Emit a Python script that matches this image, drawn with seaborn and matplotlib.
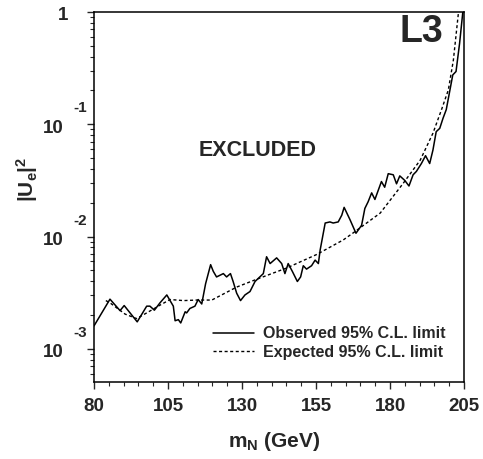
import numpy as np
import pandas as pd
import matplotlib
matplotlib.use("Agg")
import matplotlib.pyplot as plt
import matplotlib.ticker as mticker
import seaborn as sns

# Observed limit
obs_mass = [80, 85.4, 88.8, 90.2, 94.6, 97.8, 98.9, 100.4, 102.3, 104.6, 105.7,
            106.8, 107.4, 108.5, 109.3, 110.8, 111.3, 112.4, 114.1, 115.2, 116.4,
            117.7, 119.4, 120.3, 121.4, 123.7, 124.8, 126.1, 127.0, 128.2, 129.5,
            131.0, 132.7, 134.4, 137.2, 138.3, 139.5, 141.7, 143.4, 144.5, 145.6,
            147.0, 148.7, 149.8, 150.7, 151.8, 153.5, 154.7, 155.8, 156.4, 158.1,
            159.7, 160.8, 162.5, 163.7, 164.5, 166.5, 168.5, 170.4, 171.5, 172.6,
            173.8, 174.9, 177.1, 178.2, 179.4, 181.1, 182.2, 183.3, 185.0, 186.4,
            187.8, 188.9, 190.6, 192.0, 193.4, 194.5, 195.6, 196.8, 197.9, 199.0,
            201.2, 202.3, 203.5, 204.6]
obs_limit = [1.60e-3, 2.77e-3, 2.19e-3, 2.43e-3, 1.74e-3, 2.40e-3, 2.40e-3, 2.21e-3,
             2.57e-3, 3.02e-3, 2.69e-3, 2.40e-3, 1.78e-3, 1.82e-3, 1.70e-3, 2.14e-3,
             2.09e-3, 2.29e-3, 2.40e-3, 2.75e-3, 2.51e-3, 3.80e-3, 5.62e-3, 4.90e-3,
             4.37e-3, 4.68e-3, 4.37e-3, 4.68e-3, 3.98e-3, 3.13e-3, 2.69e-3, 3.02e-3,
             3.24e-3, 3.98e-3, 4.68e-3, 6.61e-3, 5.75e-3, 6.46e-3, 5.75e-3, 4.68e-3,
             5.75e-3, 4.90e-3, 3.98e-3, 4.37e-3, 5.50e-3, 5.13e-3, 5.50e-3, 6.17e-3,
             5.75e-3, 7.59e-3, 1.32e-2, 1.35e-2, 1.32e-2, 1.35e-2, 1.55e-2, 1.82e-2,
             1.41e-2, 1.07e-2, 1.26e-2, 1.78e-2, 2.04e-2, 2.45e-2, 2.14e-2, 3.09e-2,
             2.75e-2, 3.63e-2, 3.55e-2, 2.95e-2, 3.47e-2, 3.16e-2, 2.82e-2, 3.55e-2,
             3.80e-2, 4.47e-2, 5.25e-2, 4.47e-2, 5.89e-2, 8.59e-2, 9.20e-2, 0.113,
             0.135, 0.275, 0.295, 0.525, 1.0]

# Expected limit
exp_mass = [84.0, 85.4, 90.5, 94.4, 97.8, 102.3, 105.7, 110.2, 114.7, 119.8, 128.2,
            135.0, 145.1, 155.2, 164.2, 167.6, 176.7, 184.5, 190.2, 194.5, 197.4,
            199.7, 201.4, 203.1, 203.2]
exp_limit = [2.69e-3, 2.57e-3, 2.04e-3, 1.86e-3, 2.09e-3, 2.45e-3, 2.75e-3, 2.69e-3,
             2.72e-3, 2.72e-3, 3.55e-3, 4.17e-3, 5.25e-3, 6.92e-3, 9.33e-3, 1.08e-2,
             1.62e-2, 2.99e-2, 4.79e-2, 8.32e-2, 0.135, 0.202, 0.372, 0.977, 1.0]

x_ticks = [80, 105, 130, 155, 180, 205]
y_ticks = [1e-3, 1e-2, 1e-1]
y_exponents = ["-3", "-2", "-1"]

sns.set_style("ticks")
plt.rcParams["font.family"] = ["Liberation Sans", "DejaVu Sans"]
plt.rcParams["font.weight"] = "bold"
plt.rcParams["mathtext.fontset"] = "custom"
plt.rcParams["mathtext.rm"] = "Liberation Sans:bold"
plt.rcParams["mathtext.bf"] = "Liberation Sans:bold"
plt.rcParams["mathtext.it"] = "Liberation Sans:bold"

obs = pd.DataFrame({"mass": obs_mass, "limit": obs_limit})
exp = pd.DataFrame({"mass": exp_mass, "limit": exp_limit})

fig = plt.figure(figsize=(4.83, 4.59), dpi=100)
ax = fig.add_axes([0.1946, 0.1678, 0.7661, 0.8061])

sns.lineplot(data=obs, x="mass", y="limit", color="black", lw=1.1,
             label="Observed 95% C.L. limit", ax=ax)
sns.lineplot(data=exp, x="mass", y="limit", color="black", lw=1.0,
             linestyle=(0, (2.2, 1.8)), label="Expected 95% C.L. limit", ax=ax)

ax.set_yscale("log")
ax.set_xlim(80, 205)
ax.set_ylim(5.07e-4, 1)

ax.set_xticks(x_ticks)
ax.set_xticklabels([str(t) for t in x_ticks], fontsize=13.5, fontweight="bold")
ax.xaxis.set_minor_locator(mticker.MultipleLocator(5))
ax.set_yticks(y_ticks + [1])
ax.set_yticklabels([])
ax.yaxis.set_minor_locator(mticker.LogLocator(base=10, subs=np.arange(2, 10)))
ax.yaxis.set_minor_formatter(mticker.NullFormatter())

ax.tick_params(which="major", direction="out", length=5.2, width=1.0, pad=5)
ax.tick_params(axis="x", which="major", pad=6.5)
ax.tick_params(which="minor", direction="out", length=2.8, width=0.8)
for s in ax.spines.values():
    s.set_linewidth(1.1)
    s.set_color("black")
ax.set_xlabel("")
ax.set_ylabel("")

# y tick labels drawn as "10" with a raised exponent
for val, ex in zip(y_ticks, y_exponents):
    ax.annotate("10", xy=(0, val), xycoords=("axes fraction", "data"),
                xytext=(-22.0, -6.0), textcoords="offset points",
                ha="right", va="baseline", fontsize=13.5, fontweight="bold")
    ax.annotate(ex, xy=(0, val), xycoords=("axes fraction", "data"),
                xytext=(-15.2, 8.6), textcoords="offset points",
                ha="left", va="baseline", fontsize=11, fontweight="bold")
ax.annotate("1", xy=(0, 1), xycoords=("axes fraction", "data"),
            xytext=(-18.7, -5.8), textcoords="offset points",
            ha="right", va="baseline", fontsize=13.5, fontweight="bold")

fig.text(0.567, 0.026, r"m$_\mathbf{N}$ (GeV)", ha="center", va="baseline",
         fontsize=15, fontweight="bold")
fig.text(0.057, 0.61, r"$\mathbf{|U_e|^2}$", ha="center", va="center",
         rotation=90, fontsize=15)

ax.text(0.442, 0.626, "EXCLUDED", transform=ax.transAxes, ha="center", va="center",
        fontsize=15.5, fontweight="bold")
ax.text(0.943, 0.945, "L3", transform=ax.transAxes, ha="right", va="center",
        fontsize=27, fontweight="bold")

ax.legend(loc="upper left", bbox_to_anchor=(0.322, 0.15), frameon=False,
          borderpad=0, borderaxespad=0, handlelength=2.55,
          handletextpad=0.55, labelspacing=0.2, prop={"weight": "bold", "size": 11.5})

fig.savefig("out.png", dpi=100)
